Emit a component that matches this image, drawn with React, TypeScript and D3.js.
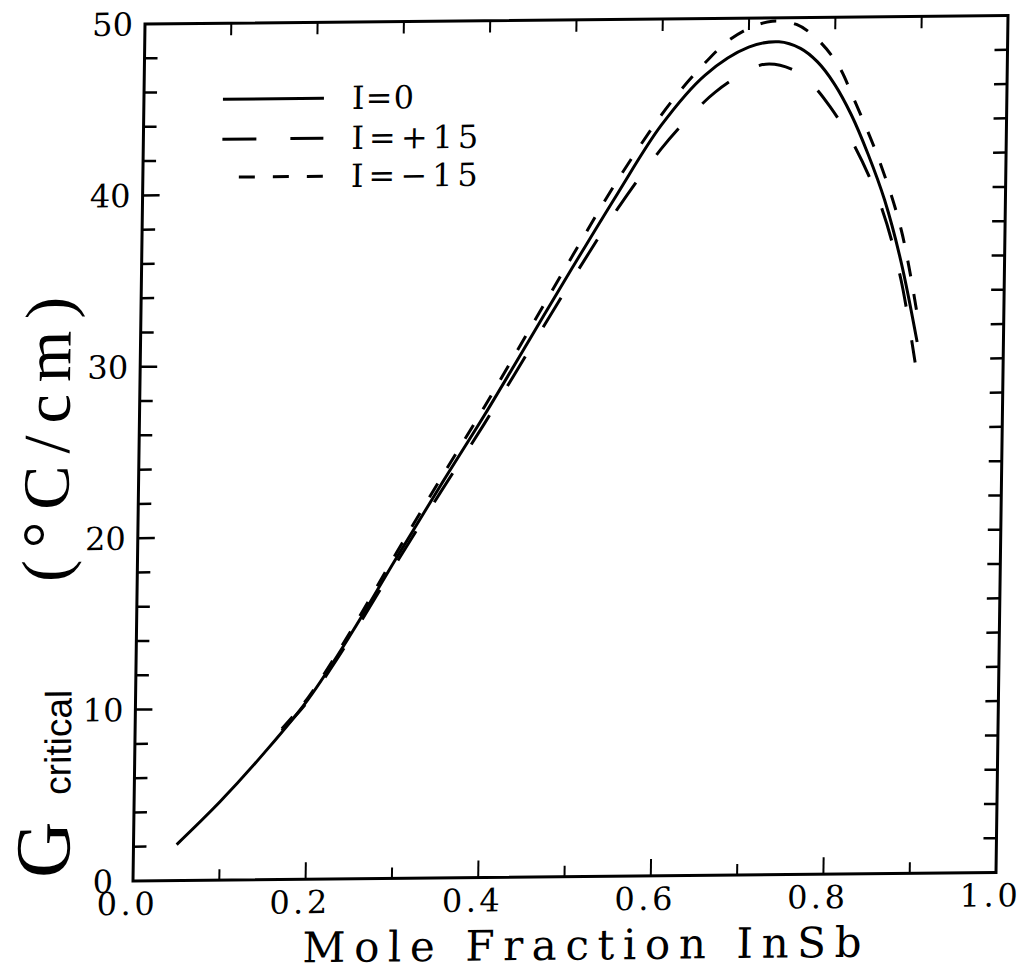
import React from "react";
import * as d3 from "d3";

// ---- data ----
const xSolid = [0.05, 0.1, 0.15, 0.2, 0.25, 0.3, 0.35, 0.4, 0.45, 0.5, 0.55, 0.6, 0.65, 0.7, 0.735, 0.76, 0.78, 0.8, 0.82, 0.84, 0.86, 0.88, 0.9];
const gI0 = [2.1, 4.6, 7.4, 10.5, 14.4, 18.7, 22.9, 27.0, 31.3, 35.6, 39.8, 43.8, 46.7, 48.3, 48.6, 48.2, 47.4, 46.1, 44.3, 42.0, 39.3, 35.7, 31.0];

const xPlus = [0.17, 0.2, 0.25, 0.3, 0.35, 0.4, 0.45, 0.5, 0.55, 0.6, 0.635, 0.662, 0.7, 0.72, 0.75, 0.772, 0.795, 0.825, 0.857, 0.88, 0.898];
const gIPlus15 = [8.7, 10.4, 14.2, 18.4, 22.5, 26.5, 30.7, 34.9, 38.9, 42.4, 44.4, 45.7, 46.95, 47.3, 47.0, 46.2, 44.8, 42.4, 38.8, 34.7, 29.8];

const xMinus = [0.17, 0.2, 0.25, 0.3, 0.35, 0.4, 0.45, 0.5, 0.55, 0.6, 0.623, 0.644, 0.674, 0.7, 0.727, 0.755, 0.78, 0.804, 0.822, 0.854, 0.88, 0.9];
const gIMinus15 = [8.8, 10.6, 14.6, 19.0, 23.3, 27.5, 31.9, 36.3, 40.6, 44.4, 45.9, 47.1, 48.6, 49.4, 49.8, 49.6, 48.7, 47.2, 45.3, 41.5, 37.5, 32.5];

const xTickLabels = ["0.0", "0.2", "0.4", "0.6", "0.8", "1.0"];
const yTickLabels = ["0", "10", "20", "30", "40", "50"];
const legendLabels = ["I=0", "I=+15", "I=\u221215"];

// ---- layout ----
const W = 863;
const H = 857;
const SERIF = "'DejaVu Serif', serif";
const TITLE_SERIF = "'Liberation Serif', serif";

export default function App() {
  const x = d3.scaleLinear().domain([0, 1]).range([0, W]);
  const y = d3.scaleLinear().domain([0, 50]).range([H, 0]);

  const line = d3
    .line<[number, number]>()
    .x((d) => x(d[0]))
    .y((d) => y(d[1]))
    .curve(d3.curveCatmullRom.alpha(0.5));

  const series = [
    { xs: xSolid, ys: gI0, dash: undefined as string | undefined },
    { xs: xPlus, ys: gIPlus15, dash: "34 34" },
    { xs: xMinus, ys: gIMinus15, dash: "16 18" },
  ];

  const xMinor = d3.range(0, 1.0001, 0.1);
  const yMinor = d3.range(0, 50.001, 2);

  const legendRows = [
    { label: legendLabels[0], dash: undefined as string | undefined, offset: 0, y0: 76, len: 62 },
    { label: legendLabels[1], dash: "34 34", offset: 0, y0: 116, len: 127 },
    { label: legendLabels[2], dash: "16 18", offset: -17, y0: 154, len: 127 },
  ];

  return (
    <svg
      width={1022}
      height={971}
      style={{ position: "absolute", left: 0, top: 0, background: "#fff" }}
    >
      <g transform="matrix(1,-0.00985,-0.014,1,145,24)">
        {/* frame */}
        <rect x={0} y={0} width={W} height={H} fill="none" stroke="#000" strokeWidth={3} />
        {/* x ticks bottom and top */}
        {xMinor.map((v, i) => {
          const major = i % 2 === 0;
          if (i === 0 || i === 10) return null;
          return (
            <g key={"xt" + i}>
              <line x1={x(v)} x2={x(v)} y1={H} y2={H - (major ? 17 : 11)} stroke="#000" strokeWidth={2} />
              <line x1={x(v)} x2={x(v)} y1={0} y2={12} stroke="#000" strokeWidth={2} />
            </g>
          );
        })}
        {/* y ticks left and right */}
        {yMinor.map((v, i) => {
          if (v === 0 || v === 50) return null;
          const major = v % 10 === 0;
          return (
            <g key={"yt" + i}>
              <line x1={0} x2={major ? 17 : 13} y1={y(v)} y2={y(v)} stroke="#000" strokeWidth={2.5} />
              <line x1={W} x2={W - 13} y1={y(v)} y2={y(v)} stroke="#000" strokeWidth={2.5} />
            </g>
          );
        })}
        {/* x tick labels */}
        {xTickLabels.map((t) => (
          <text
            key={"xl" + t}
            x={x(+t) - 7}
            y={H + 34}
            textAnchor="middle"
            fontFamily={SERIF}
            fontSize={32}
            textLength={58}
            lengthAdjust="spacing"
            fill="#000"
          >
            {t}
          </text>
        ))}
        {/* y tick labels */}
        {yTickLabels.map((t) => (
          <text
            key={"yl" + t}
            x={t === "0" ? -20 : -12}
            y={y(+t)}
            dy="0.36em"
            textAnchor="end"
            fontFamily={SERIF}
            fontSize={32}
            fill="#000"
          >
            {t}
          </text>
        ))}
        {/* x title */}
        <text
          x={450}
          y={H + 83}
          textAnchor="middle"
          fontFamily={SERIF}
          fontSize={42}
          textLength={559}
          lengthAdjust="spacing"
          fill="#000"
        >
          Mole Fraction InSb
        </text>
        {/* y title */}
        <text transform={`translate(-64,${H - 4}) rotate(-90)`} fontFamily={TITLE_SERIF} fontSize={78} fill="#000">
          G
        </text>
        <text
          transform={`translate(-64,${H - 87}) rotate(-90)`}
          fontFamily="'Liberation Sans', sans-serif"
          fontSize={37}
          fill="#000"
        >
          critical
        </text>
        <text
          transform={`translate(-70,${H - 300}) rotate(-90)`}
          fontFamily={TITLE_SERIF}
          fontSize={66}
          textLength={285}
          lengthAdjust="spacing"
          fill="#000"
        >
          (°C/cm)
        </text>

        {/* curves */}
        <g clipPath="url(#plotclip)">
          {series.map((s, i) => (
            <path
              key={"s" + i}
              d={line(s.xs.map((v, j) => [v, s.ys[j]] as [number, number])) || ""}
              fill="none"
              stroke="#000"
              strokeWidth={3}
              strokeDasharray={s.dash}
            />
          ))}
        </g>

        {/* legend */}
        {legendRows.map((r, i) => (
          <g key={"lg" + i}>
            <line
              x1={79}
              x2={180}
              y1={r.y0}
              y2={r.y0}
              stroke="#000"
              strokeWidth={3}
              strokeDasharray={r.dash}
              strokeDashoffset={r.offset}
            />
            <text
              x={208}
              y={r.y0 + 11}
              fontFamily={SERIF}
              fontSize={32}
              textLength={r.len}
              lengthAdjust="spacing"
              fill="#000"
            >
              {r.label}
            </text>
          </g>
        ))}
      </g>
      <defs>
        <clipPath id="plotclip">
          <rect x={-2} y={-4} width={W + 4} height={H + 6} />
        </clipPath>
      </defs>
    </svg>
  );
}
